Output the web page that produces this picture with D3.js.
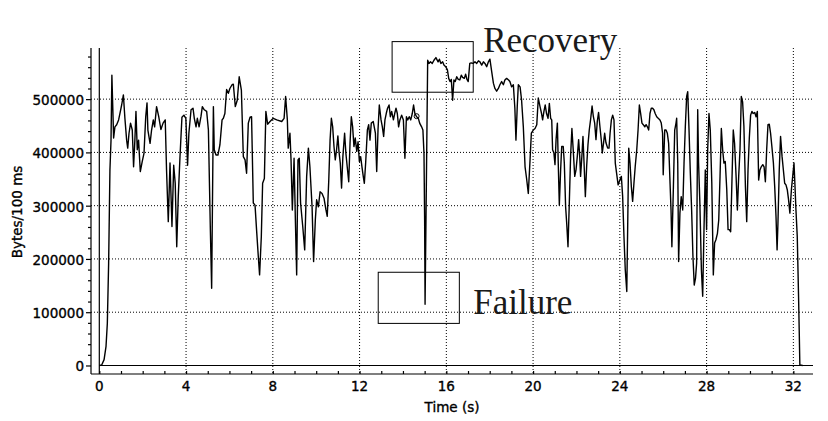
<!DOCTYPE html>
<html>
<head>
<meta charset="utf-8">
<script src="https://cdn.jsdelivr.net/npm/d3@7"></script>
<style>
  body { margin: 0; background: #fff; }
  text { font-family: "DejaVu Sans", Verdana, sans-serif; }
  .lbl { stroke: #000; stroke-width: 0.35px; }
</style>
</head>
<body>
<svg id="viz"></svg>
<script>
// Throughput trace, one sample roughly every 0.1 s.
const times = [
  0, 0.11, 0.22, 0.31, 0.37, 0.43, 0.49, 0.54, 0.58, 0.66, 0.72, 0.80, 0.89, 0.95, 1.03, 1.11, 1.18, 1.26, 1.31, 1.37,
  1.44, 1.52, 1.58, 1.64, 1.69, 1.75, 1.81, 1.89, 1.98, 2.06, 2.14, 2.20, 2.24, 2.34, 2.41, 2.49, 2.55, 2.64, 2.74, 2.84,
  2.94, 3.04, 3.10, 3.18, 3.26, 3.35, 3.43, 3.50, 3.57, 3.64, 3.72, 3.81, 3.90, 3.99, 4.07, 4.13, 4.23, 4.32, 4.38, 4.46,
  4.52, 4.60, 4.69, 4.75, 4.84, 4.95, 5.03, 5.12, 5.18, 5.26, 5.30, 5.38, 5.47, 5.56, 5.66, 5.72, 5.79, 5.87, 5.95, 6.02,
  6.12, 6.18, 6.27, 6.36, 6.45, 6.55, 6.64, 6.72, 6.79, 6.87, 6.95, 7.02, 7.10, 7.18, 7.25, 7.33, 7.39, 7.47, 7.53, 7.61,
  7.68, 7.76, 7.87, 8.02, 8.18, 8.41, 8.52, 8.59, 8.67, 8.71, 8.79, 8.84, 8.90, 8.98, 9.04, 9.10, 9.16, 9.22, 9.28, 9.38,
  9.47, 9.56, 9.64, 9.71, 9.81, 9.88, 9.96, 10.02, 10.10, 10.18, 10.27, 10.36, 10.45, 10.51, 10.58, 10.64, 10.70, 10.76, 10.82, 10.88,
  10.94, 11.00, 11.05, 11.11, 11.17, 11.23, 11.31, 11.37, 11.43, 11.50, 11.56, 11.62, 11.68, 11.74, 11.80, 11.87, 11.93, 11.99, 12.05, 12.11,
  12.17, 12.22, 12.28, 12.36, 12.42, 12.48, 12.54, 12.63, 12.73, 12.79, 12.85, 12.91, 12.99, 13.05, 13.11, 13.17, 13.23, 13.29, 13.36, 13.42,
  13.48, 13.56, 13.62, 13.68, 13.74, 13.80, 13.86, 13.94, 14.02, 14.09, 14.16, 14.22, 14.29, 14.36, 14.43, 14.49, 14.55, 14.63, 14.71, 14.77,
  14.86, 14.92, 14.97, 15.00, 15.02, 15.14, 15.20, 15.27, 15.35, 15.43, 15.52, 15.62, 15.68, 15.75, 15.83, 15.89, 15.97, 16.05, 16.11, 16.17,
  16.23, 16.29, 16.35, 16.41, 16.48, 16.55, 16.62, 16.69, 16.75, 16.83, 16.89, 16.95, 17.01, 17.08, 17.15, 17.23, 17.32, 17.40, 17.48, 17.55,
  17.63, 17.71, 17.78, 17.86, 17.94, 18.01, 18.09, 18.17, 18.24, 18.32, 18.40, 18.47, 18.55, 18.63, 18.70, 18.78, 18.87, 18.93, 19.01, 19.09,
  19.16, 19.21, 19.27, 19.32, 19.40, 19.47, 19.55, 19.63, 19.70, 19.78, 19.86, 19.92, 20.01, 20.09, 20.17, 20.24, 20.32, 20.39, 20.44, 20.50,
  20.56, 20.62, 20.69, 20.75, 20.81, 20.86, 20.90, 20.96, 21.01, 21.06, 21.12, 21.16, 21.21, 21.27, 21.32, 21.39, 21.44, 21.50, 21.55, 21.61,
  21.67, 21.73, 21.79, 21.85, 21.92, 21.98, 22.04, 22.10, 22.15, 22.19, 22.25, 22.30, 22.35, 22.41, 22.47, 22.53, 22.59, 22.65, 22.72, 22.78,
  22.84, 22.90, 22.96, 23.02, 23.08, 23.15, 23.19, 23.25, 23.30, 23.36, 23.44, 23.50, 23.55, 23.61, 23.67, 23.73, 23.79, 23.85, 23.92, 23.98,
  24.07, 24.13, 24.19, 24.25, 24.32, 24.36, 24.41, 24.47, 24.53, 24.59, 24.65, 24.71, 24.78, 24.84, 24.90, 24.96, 25.02, 25.08, 25.15, 25.21,
  25.27, 25.33, 25.39, 25.45, 25.51, 25.57, 25.63, 25.70, 25.77, 25.85, 25.91, 25.97, 26.00, 26.07, 26.13, 26.19, 26.25, 26.31, 26.36, 26.40,
  26.47, 26.53, 26.59, 26.62, 26.67, 26.71, 26.77, 26.83, 26.90, 26.96, 27.02, 27.08, 27.13, 27.19, 27.25, 27.31, 27.37, 27.43, 27.49, 27.54,
  27.59, 27.63, 27.69, 27.76, 27.82, 27.88, 27.94, 28.00, 28.05, 28.11, 28.17, 28.24, 28.31, 28.37, 28.43, 28.50, 28.56, 28.62, 28.68, 28.74,
  28.80, 28.86, 28.93, 28.99, 29.05, 29.11, 29.17, 29.23, 29.29, 29.36, 29.42, 29.48, 29.54, 29.60, 29.66, 29.72, 29.79, 29.85, 29.91, 29.97,
  30.03, 30.09, 30.15, 30.22, 30.28, 30.34, 30.40, 30.46, 30.52, 30.59, 30.65, 30.71, 30.77, 30.83, 30.89, 30.95, 31.01, 31.08, 31.14, 31.20,
  31.25, 31.29, 31.35, 31.41, 31.48, 31.54, 31.60, 31.66, 31.72, 31.78, 31.84, 31.91, 31.97, 32.03, 32.07, 32.12, 32.18, 32.24, 32.27, 32.30,
  32.43
];

// Bytes received per 100 ms, same order as `times`.
const bytes = [
  0, 1000, 11000, 36000, 79000, 192000, 367000, 423000, 545000, 427000, 448000, 452000, 461000, 473000, 489000, 508000, 464000, 423000, 408000, 436000,
  455000, 442000, 373000, 423000, 477000, 405000, 423000, 364000, 383000, 398000, 467000, 493000, 442000, 417000, 442000, 461000, 448000, 486000, 467000, 443000,
  455000, 461000, 367000, 270000, 380000, 261000, 376000, 342000, 223000, 317000, 392000, 466000, 470000, 464000, 376000, 436000, 480000, 483000, 464000, 448000,
  464000, 448000, 468000, 486000, 480000, 477000, 442000, 255000, 145000, 486000, 405000, 395000, 395000, 414000, 461000, 464000, 473000, 518000, 511000, 520000,
  527000, 528000, 486000, 498000, 542000, 517000, 392000, 386000, 361000, 455000, 466000, 467000, 305000, 301000, 255000, 205000, 170000, 242000, 342000, 351000,
  477000, 453000, 458000, 464000, 461000, 458000, 464000, 505000, 461000, 408000, 436000, 386000, 292000, 389000, 273000, 170000, 386000, 389000, 305000, 261000,
  217000, 355000, 408000, 373000, 298000, 195000, 273000, 311000, 298000, 326000, 323000, 314000, 292000, 280000, 348000, 423000, 464000, 448000, 411000, 386000,
  405000, 431000, 402000, 380000, 333000, 392000, 436000, 398000, 373000, 345000, 417000, 467000, 448000, 411000, 427000, 402000, 420000, 383000, 392000, 373000,
  355000, 342000, 380000, 442000, 452000, 423000, 455000, 458000, 436000, 364000, 442000, 489000, 461000, 448000, 430000, 461000, 473000, 483000, 489000, 467000,
  477000, 461000, 473000, 483000, 473000, 448000, 461000, 470000, 461000, 389000, 467000, 461000, 467000, 461000, 473000, 489000, 473000, 467000, 464000, 455000,
  448000, 442000, 398000, 273000, 115000, 573000, 567000, 570000, 567000, 573000, 578000, 570000, 575000, 567000, 570000, 564000, 561000, 555000, 539000, 533000,
  537000, 498000, 536000, 533000, 542000, 537000, 536000, 545000, 541000, 539000, 547000, 537000, 533000, 567000, 568000, 567000, 570000, 567000, 572000, 570000,
  564000, 570000, 567000, 561000, 570000, 575000, 552000, 530000, 520000, 515000, 520000, 527000, 533000, 527000, 536000, 539000, 536000, 533000, 523000, 527000,
  483000, 423000, 486000, 527000, 523000, 498000, 448000, 373000, 351000, 323000, 386000, 436000, 442000, 445000, 452000, 502000, 486000, 473000, 461000, 477000,
  489000, 473000, 464000, 492000, 464000, 461000, 405000, 399000, 377000, 424000, 455000, 380000, 301000, 367000, 411000, 411000, 380000, 298000, 267000, 223000,
  305000, 393000, 445000, 405000, 355000, 367000, 393000, 424000, 393000, 355000, 393000, 430000, 380000, 317000, 374000, 414000, 442000, 461000, 487000, 467000,
  455000, 424000, 458000, 475000, 449000, 421000, 399000, 418000, 436000, 418000, 408000, 408000, 436000, 461000, 470000, 461000, 380000, 361000, 339000, 346000,
  355000, 317000, 242000, 180000, 139000, 255000, 408000, 380000, 336000, 308000, 342000, 374000, 405000, 442000, 489000, 473000, 455000, 452000, 448000, 452000,
  448000, 442000, 473000, 483000, 483000, 480000, 473000, 467000, 464000, 461000, 455000, 436000, 358000, 442000, 442000, 436000, 417000, 348000, 292000, 223000,
  336000, 442000, 455000, 464000, 380000, 195000, 286000, 317000, 292000, 380000, 449000, 505000, 514000, 442000, 361000, 292000, 205000, 151000, 164000, 192000,
  480000, 380000, 305000, 180000, 130000, 255000, 367000, 255000, 405000, 473000, 442000, 342000, 170000, 230000, 236000, 248000, 273000, 355000, 445000, 405000,
  380000, 383000, 330000, 255000, 255000, 251000, 348000, 442000, 417000, 355000, 292000, 355000, 405000, 505000, 495000, 449000, 336000, 270000, 367000, 427000,
  470000, 477000, 473000, 475000, 467000, 477000, 348000, 367000, 373000, 377000, 373000, 345000, 405000, 452000, 453000, 436000, 411000, 380000, 336000, 280000,
  217000, 267000, 367000, 430000, 392000, 367000, 342000, 339000, 330000, 311000, 286000, 330000, 355000, 380000, 342000, 292000, 242000, 130000, 67000, 1000,
  0
];

// Tick values on both axes
const xTicks = [0, 4, 8, 12, 16, 20, 24, 28, 32];
const yTicks = [0, 100000, 200000, 300000, 400000, 500000];
const xMinorTicks = d3.range(0, 33, 1);
const yMinorTicks = d3.range(0, 600000, 20000);

// Small circle sitting on the trace just before the failure
const markerTimes = [14.63];
const markerBytes = [468000];

// Annotation boxes and labels, given in data units (seconds, bytes)
const annoNames = ["Recovery", "Failure"];
const annoBoxT = [[13.5, 17.24], [12.86, 16.6]];
const annoBoxV = [[608000, 513000], [175000, 79000]];
const annoTextT = [17.7, 17.24];
const annoTextV = [589000, 97000];

let width = 828, height = 421;

const svg = d3.select("#viz")
    .attr("width", width)
    .attr("height", height);

svg.append("rect")
    .attr("width", width)
    .attr("height", height)
    .attr("fill", "#fff");

// The axes sit a little outside the data: the left axis is left of t = 0
// and the bottom axis is under the zero line.
const x = d3.scaleLinear().domain([-0.383, 32.906]).range([91, 813]);
const y = d3.scaleLinear().domain([-16000, 596000]).range([374, 48]);

const [x0, x1] = x.range();
const [y0, y1] = y.range();

// dotted grid
svg.append("g")
    .selectAll("line")
    .data(xTicks.filter(d => d > 0))
    .enter().append("line")
    .attr("x1", d => x(d)).attr("x2", d => x(d))
    .attr("y1", y1).attr("y2", y0)
    .attr("stroke", "#000")
    .attr("stroke-width", 1)
    .attr("stroke-dasharray", "1,2");

svg.append("g")
    .selectAll("line")
    .data(yTicks.filter(d => d > 0))
    .enter().append("line")
    .attr("x1", x0).attr("x2", x1)
    .attr("y1", d => y(d)).attr("y2", d => y(d))
    .attr("stroke", "#000")
    .attr("stroke-width", 1)
    .attr("stroke-dasharray", "1,2");

// solid zero lines
svg.append("line")
    .attr("x1", x(0)).attr("x2", x1)
    .attr("y1", y(0)).attr("y2", y(0))
    .attr("stroke", "#000").attr("stroke-width", 1.2);

svg.append("line")
    .attr("x1", x(0)).attr("x2", x(0))
    .attr("y1", y1).attr("y2", y0)
    .attr("stroke", "#000").attr("stroke-width", 1.2);

// Bottom axis: ticks point up into the plot
const xAxis = d3.axisTop(x)
    .tickValues(xMinorTicks)
    .tickSize(3)
    .tickFormat("");

const gx = svg.append("g")
    .attr("transform", "translate(0," + y0 + ")")
    .call(xAxis);
gx.select(".domain").attr("d", "M" + x0 + ",0H" + x1);

svg.append("g")
    .selectAll("text")
    .data(xTicks)
    .enter().append("text")
    .attr("class", "lbl")
    .attr("x", d => x(d))
    .attr("y", y0 + 17)
    .attr("text-anchor", "middle")
    .attr("font-size", 13.5)
    .text(d => d);

// Left axis: ticks point outwards
const yAxis = d3.axisLeft(y)
    .tickValues(yMinorTicks)
    .tickSize(3)
    .tickFormat("");

const gy = svg.append("g")
    .attr("transform", "translate(" + x0 + ",0)")
    .call(yAxis);
gy.select(".domain").attr("d", "M0," + y1 + "V" + y0);
gy.selectAll(".tick line")
    .attr("x2", d => (d % 100000 === 0 ? -5 : -3));

svg.append("g")
    .selectAll("text")
    .data(yTicks)
    .enter().append("text")
    .attr("class", "lbl")
    .attr("x", 84)
    .attr("y", d => y(d) + 6)
    .attr("text-anchor", "end")
    .attr("font-size", 13.5)
    .text(d => d);

svg.selectAll(".domain, .tick line").attr("stroke", "#000").attr("stroke-width", 1.2);

// axis titles
svg.append("text")
    .attr("class", "lbl")
    .attr("transform", "translate(22," + ((y1 + y0) / 2 + 1) + ") rotate(-90)")
    .attr("text-anchor", "middle")
    .attr("font-size", 13.5)
    .text("Bytes/100 ms");

svg.append("text")
    .attr("class", "lbl")
    .attr("x", (x0 + x1) / 2)
    .attr("y", 412)
    .attr("text-anchor", "middle")
    .attr("font-size", 13.5)
    .text("Time (s)");

// the trace itself
const points = times.map((t, i) => [t, bytes[i]]);

const line = d3.line()
    .x(d => x(d[0]))
    .y(d => y(d[1]));

svg.append("path")
    .datum(points)
    .attr("d", line)
    .attr("fill", "none")
    .attr("stroke", "#000")
    .attr("stroke-width", 1.4)
    .attr("stroke-linejoin", "round");

svg.selectAll(".marker")
    .data(markerTimes)
    .enter().append("circle")
    .attr("class", "marker")
    .attr("cx", d => x(d))
    .attr("cy", (d, i) => y(markerBytes[i]))
    .attr("r", 2.5)
    .attr("fill", "none")
    .attr("stroke", "#000")
    .attr("stroke-width", 1);

// Recovery / Failure annotations
const anno = svg.append("g");

anno.selectAll("rect")
    .data(annoNames)
    .enter().append("rect")
    .attr("x", (d, i) => x(annoBoxT[i][0]))
    .attr("y", (d, i) => y(annoBoxV[i][0]))
    .attr("width", (d, i) => x(annoBoxT[i][1]) - x(annoBoxT[i][0]))
    .attr("height", (d, i) => y(annoBoxV[i][1]) - y(annoBoxV[i][0]))
    .attr("fill", "none")
    .attr("stroke", "#000")
    .attr("stroke-width", 1);

anno.selectAll("text")
    .data(annoNames)
    .enter().append("text")
    .attr("x", (d, i) => x(annoTextT[i]))
    .attr("y", (d, i) => y(annoTextV[i]))
    .style("font-family", "'Liberation Serif', 'Times New Roman', serif")
    .attr("font-size", 35)
    .attr("fill", "#1a1a1a")
    .text(d => d);
</script>
</body>
</html>
